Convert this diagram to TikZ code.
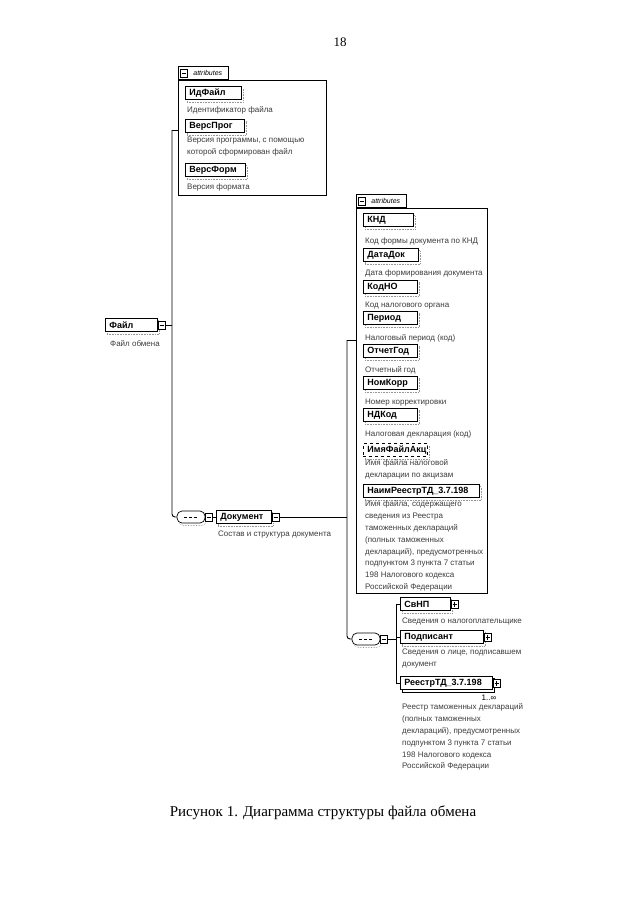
\documentclass[tikz,border=0pt]{standalone}
\usepackage{fontspec}
\setmainfont{Liberation Serif}
\setsansfont{Liberation Sans}
\usepackage{xcolor}
\definecolor{shadegray}{RGB}{150,150,150}
\definecolor{notegray}{RGB}{60,60,60}
\usepackage{tikz}
\usetikzlibrary{positioning, shadows}

\tikzset{
  elem/.style={draw, line width=0.9pt, fill=white, anchor=west, align=left,
    font=\sffamily\bfseries\fontsize{9}{10}\selectfont, text width=#1,
    minimum height=13.5pt, inner xsep=4pt, inner ysep=0pt,
    general shadow={shadow xshift=1.5pt, shadow yshift=-2.5pt, draw=shadegray, densely dotted, line width=0.6pt}},
  elem/.default=40pt,
  optelem/.style={elem=#1, dashed},
  multiocc/.style={general shadow={shadow xshift=2pt, shadow yshift=-2.5pt, draw=black, fill=white, line width=0.6pt}},
  descnote/.style={anchor=north west, yshift=8.3pt, align=left, inner sep=0pt, text=notegray,
    font=\sffamily\fontsize{8}{11.8}\selectfont, execute at begin node=\strut},
  minusbox/.style={draw, fill=white, line width=0.6pt, minimum width=7pt, minimum height=8pt, inner sep=0pt,
    path picture={\draw[line width=0.5pt] ([xshift=1.3pt]path picture bounding box.west) -- ([xshift=-1.3pt]path picture bounding box.east);}},
  plusbox/.style={minusbox,
    path picture={\draw[line width=0.5pt] ([xshift=1.3pt]path picture bounding box.west) -- ([xshift=-1.3pt]path picture bounding box.east);
      \draw[line width=0.5pt] ([yshift=1.5pt]path picture bounding box.south) -- ([yshift=-1.5pt]path picture bounding box.north);}},
  seqsym/.style={draw, fill=white, line width=0.7pt, rounded corners=5pt, minimum width=28pt, minimum height=12pt, inner sep=0pt,
    general shadow={shadow xshift=1.5pt, shadow yshift=-2.5pt, draw=shadegray, densely dotted, line width=0.6pt},
    path picture={\draw[densely dashed, line width=0.9pt] ([xshift=7pt]path picture bounding box.west) -- ([xshift=-7pt]path picture bounding box.east);}},
  attrframe/.style={draw, line width=0.6pt, fill=white, anchor=north west, inner sep=0pt,
    general shadow={shadow xshift=1pt, shadow yshift=-1pt, fill=black}},
  attrtab/.style={draw, line width=0.6pt, fill=white, anchor=south west, inner sep=0pt,
    minimum width=50pt, minimum height=13pt, font=\sffamily\itshape\fontsize{7}{8}\selectfont,
    general shadow={shadow xshift=1pt, shadow yshift=0pt, fill=black}},
  link/.style={line width=0.9pt, draw=black},
  multlabel/.style={font=\sffamily\fontsize{8}{9}\selectfont, inner sep=0pt},
}

\begin{document}
\begin{tikzpicture}[x=1pt, y=-1pt]
    \useasboundingbox (0,0) rectangle (640,905);

    \node[font=\fontsize{13}{15}\selectfont] (pageNo) at (340,42) {18};

    % attributes of Файл
    \node[attrframe, minimum width=148pt, minimum height=115pt] (fileAttrs) at (178,80) {};
    \node[attrtab] (fileTab) at (fileAttrs.north west) {\hspace*{9pt}attributes};
    \node[minusbox] (fileTabBtn) at ([xshift=6pt]fileTab.west) {};
    \node[elem=48pt] (idFile) at (185,93) {ИдФайл};
    \node[descnote] (idFileNote) at (187,112) {Идентификатор файла};
    \node[elem=51pt] (versProg) at (185,126) {ВерсПрог};
    \node[descnote] (versProgNote) at (187,145) {Версия программы, с помощью\\которой сформирован файл};
    \node[elem=52pt] (versForm) at (185,170) {ВерсФорм};
    \node[descnote] (versFormNote) at (187,189) {Версия формата};

    % root
    \node[elem=44pt] (fileNode) at (105,325) {Файл};
    \node[minusbox, right=0pt of fileNode] (fileBtn) {};
    \node[descnote] (fileNote) at (110,346) {Файл обмена};

    % Документ
    \node[seqsym] (seqA) at (191,517) {};
    \node[minusbox, right=0pt of seqA] (seqABtn) {};
    \node[elem=47pt] (docNode) at (216,517) {Документ};
    \node[minusbox, right=0pt of docNode] (docBtn) {};
    \node[descnote] (docNote) at (218,536) {Состав и структура документа};

    % attributes of Документ
    \node[attrframe, minimum width=131pt, minimum height=385pt] (docAttrs) at (356,208) {};
    \node[attrtab] (docTab) at (docAttrs.north west) {\hspace*{9pt}attributes};
    \node[minusbox] (docTabBtn) at ([xshift=6pt]docTab.west) {};
    \node[elem=42pt] (knd) at (363,220) {КНД};
    \node[descnote] (kndNote) at (365,243) {Код формы документа по КНД};
    \node[elem=47pt] (dataDok) at (363,255) {ДатаДок};
    \node[descnote] (dataDokNote) at (365,275) {Дата формирования документа};
    \node[elem=46pt] (kodNO) at (363,287) {КодНО};
    \node[descnote] (kodNONote) at (365,307) {Код налогового органа};
    \node[elem=46pt] (period) at (363,318) {Период};
    \node[descnote] (periodNote) at (365,340) {Налоговый период (код)};
    \node[elem=46pt] (otchGod) at (363,351) {ОтчетГод};
    \node[descnote] (otchGodNote) at (365,372) {Отчетный год};
    \node[elem=46pt] (nomKorr) at (363,383) {НомКорр};
    \node[descnote] (nomKorrNote) at (365,404) {Номер корректировки};
    \node[elem=46pt] (ndKod) at (363,415) {НДКод};
    \node[descnote] (ndKodNote) at (365,436) {Налоговая декларация (код)};
    \node[optelem=56pt] (imyaAkc) at (363,450) {ИмяФайлАкц};
    \node[descnote] (imyaAkcNote) at (365,468) {Имя файла налоговой\\декларации по акцизам};
    \node[elem=108pt] (naimReestr) at (363,491) {НаимРеестрТД\_3.7.198};
    \node[descnote] (naimReestrNote) at (365,509) {Имя файла, содержащего\\сведения из Реестра\\таможенных деклараций\\(полных таможенных\\деклараций), предусмотренных\\подпунктом 3 пункта 7 статьи\\198 Налогового кодекса\\Российской Федерации};

    % children of Документ
    \node[seqsym] (seqB) at (366,639) {};
    \node[minusbox, right=0pt of seqB] (seqBBtn) {};
    \node[elem=42pt] (svnp) at (400,604) {СвНП};
    \node[plusbox, right=0pt of svnp] (svnpBtn) {};
    \node[descnote] (svnpNote) at (402,623) {Сведения о налогоплательщике};
    \node[elem=75pt] (signer) at (400,637) {Подписант};
    \node[plusbox, right=0pt of signer] (signerBtn) {};
    \node[descnote] (signerNote) at (402,657) {Сведения о лице, подписавшем\\документ};
    \node[elem=84pt, multiocc] (reestr) at (400,683) {РеестрТД\_3.7.198};
    \node[plusbox, right=0pt of reestr] (reestrBtn) {};
    \node[multlabel] (reestrMult) at (489,698) {1..∞};
    \node[descnote] (reestrNote) at (402,712) {Реестр таможенных деклараций\\(полных таможенных\\деклараций), предусмотренных\\подпунктом 3 пункта 7 статьи\\198 Налогового кодекса\\Российской Федерации};

    % connectors
    \coordinate (spineA top) at (172,130);
    \coordinate (spineA bot) at (172,517);
    \coordinate (spineB top) at (347,340);
    \coordinate (spineB bot) at (347,639);
    \coordinate (spineC top) at (396,604);
    \coordinate (spineC bot) at (396,683);
    \draw[link] (fileAttrs.west |- spineA top) -- (spineA top);
    \draw[link, rounded corners=3pt] (spineA top) -- (spineA bot) -- (seqA.west);
    \draw[link] (fileBtn.east) -- (fileBtn.east -| spineA top);
    \draw[link] (seqABtn.east) -- (docNode.west);
    \draw[link] (docBtn.east) -- (docBtn.east -| spineB top);
    \draw[link] (docAttrs.west |- spineB top) -- (spineB top);
    \draw[link, rounded corners=3pt] (spineB top) -- (spineB bot) -- (seqB.west);
    \draw[link] (seqBBtn.east) -- (seqBBtn.east -| spineC top);
    \draw[link] (svnp.west) -- (spineC top) -- (spineC bot) -- (reestr.west);
    \draw[link] (signer.west) -- (signer.west -| spineC top);

    \node[font=\fontsize{15}{18}\selectfont] (figCaption) at (323,813) {Рисунок 1. Диаграмма структуры файла обмена};
\end{tikzpicture}
\end{document}
